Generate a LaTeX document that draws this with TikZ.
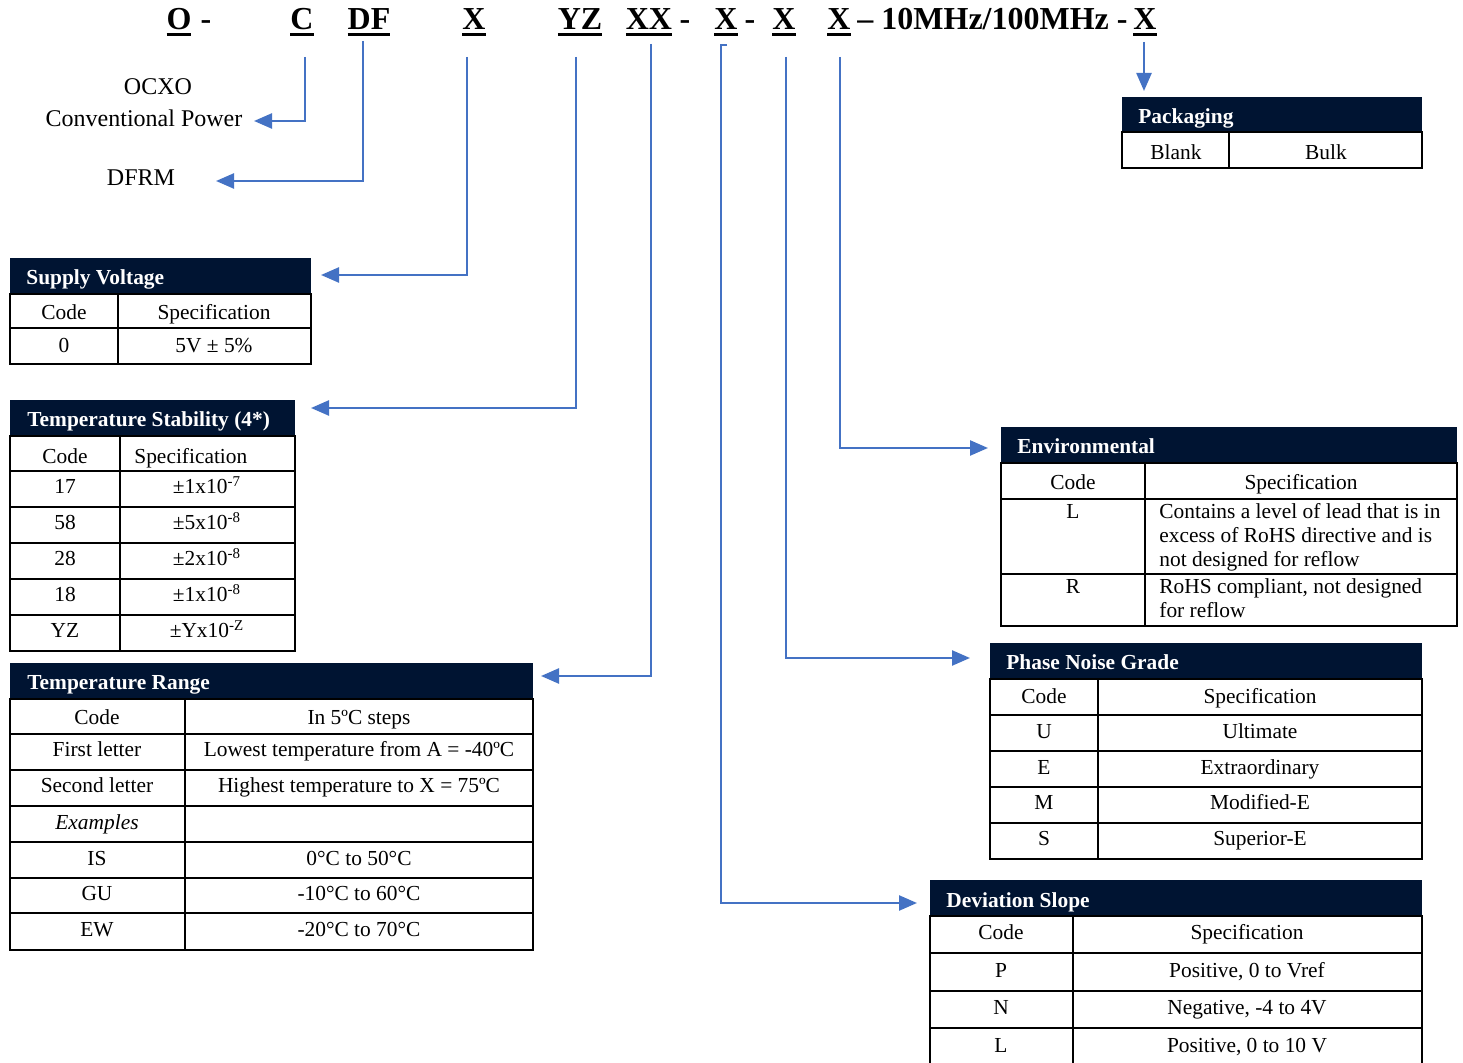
\documentclass[tikz,border=0pt]{standalone}
\usepackage{fontspec}
\setmainfont{Liberation Serif}
\usetikzlibrary{arrows.meta}
\definecolor{navy}{RGB}{0,20,50}
\definecolor{linkblue}{RGB}{68,114,196}
\newcommand\myul[1]{\vtop{\hbox{#1}\kern1.3pt\hrule height1.5pt}}
\newcommand\mylines[1]{\vtop{\baselineskip=12pt #1}}
\begin{document}
\begin{tikzpicture}[x=0.5pt,y=-0.5pt,
  codetxt/.style={font=\fontsize{16}{19}\selectfont\bfseries, inner sep=0pt, anchor=base},
  lbl/.style={font=\fontsize{12}{14}\selectfont, inner sep=0pt, anchor=base},
  hdrtxt/.style={font=\fontsize{10.7}{12.3}\selectfont\bfseries, text=white, inner sep=0pt, anchor=base west, yshift=-1pt},
  cell/.style={font=\fontsize{10.7}{12.3}\selectfont, inner sep=0pt, anchor=base, yshift=-1pt},
  celll/.style={font=\fontsize{10.7}{12.3}\selectfont, inner sep=0pt, anchor=base west, yshift=-1pt},
  grid/.style={line width=1pt, black},
  conn/.style={linkblue, line width=1.2pt, -{Triangle[length=9pt,width=7.5pt]}},
]
\useasboundingbox[fill=white] (0,0) rectangle (1463,1063);

% ---------- top code line ----------
\node[codetxt] (cO) at (179,30) {\myul{O}};
\node[codetxt] (d1) at (206,30) {-};
\node[codetxt] (cC) at (302,30) {\myul{C}};
\node[codetxt] (cDF) at (369,30) {\myul{DF}};
\node[codetxt] (cX1) at (474,30) {\myul{X}};
\node[codetxt] (cYZ) at (580,30) {\myul{YZ}};
\node[codetxt] (cXX) at (649,30) {\myul{XX}};
\node[codetxt] (d2) at (685,30) {-};
\node[codetxt] (cX2) at (726,30) {\myul{X}};
\node[codetxt] (d3) at (750,30) {-};
\node[codetxt] (cX3) at (784,30) {\myul{X}};
\node[codetxt] (cX4) at (839,30) {\myul{X}};
\node[codetxt, anchor=base west] (freq) at (857,30) {– 10MHz/100MHz -};
\node[codetxt] (cX5) at (1145,30) {\myul{X}};

% ---------- free labels ----------
\node[lbl] (ocxo) at (158,95) {OCXO};
\node[lbl] (conv) at (144,127) {Conventional Power};
\node[lbl] (dfrm) at (141,186) {DFRM};

% ---------- Packaging ----------
\fill[navy] (1122,97) rectangle (1422,132);
\node[hdrtxt] (pkT) at (1138,122) {Packaging};
\draw[grid] (1122,132) rectangle (1422,168);
\draw[grid] (1229,132) -- (1229,168);
\node[cell] (pk1) at (1176,158) {Blank};
\node[cell] (pk2) at (1326,158) {Bulk};

% ---------- Supply Voltage ----------
\fill[navy] (10,258) rectangle (311,294);
\node[hdrtxt] (svT) at (26,283) {Supply Voltage};
\draw[grid] (10,294) rectangle (311,364);
\draw[grid] (118,294) -- (118,364);
\draw[grid] (10,328) -- (311,328);
\node[cell] (sv1) at (64,318) {Code};
\node[cell] (sv2) at (214,318) {Specification};
\node[cell] (sv3) at (64,351) {0};
\node[cell] (sv4) at (214,351) {5V ± 5\%};

% ---------- Temperature Stability ----------
\fill[navy] (10,400) rectangle (295,436);
\node[hdrtxt] (tsT) at (27,425) {Temperature Stability (4*)};
\draw[grid] (10,436) rectangle (295,651);
\draw[grid] (120,436) -- (120,651);
\foreach \yy in {471,507,543,579,615} \draw[grid] (10,\yy) -- (295,\yy);
\node[cell] (ts1) at (65,462) {Code};
\node[celll] (ts2) at (134,462) {Specification};
\node[cell] (ts3) at (65,492) {17};
\node[cell] (ts4) at (207,492) {±1x10\textsuperscript{-7}};
\node[cell] (ts5) at (65,528) {58};
\node[cell] (ts6) at (207,528) {±5x10\textsuperscript{-8}};
\node[cell] (ts7) at (65,564) {28};
\node[cell] (ts8) at (207,564) {±2x10\textsuperscript{-8}};
\node[cell] (ts9) at (65,600) {18};
\node[cell] (ts10) at (207,600) {±1x10\textsuperscript{-8}};
\node[cell] (ts11) at (65,636) {YZ};
\node[cell] (ts12) at (207,636) {±Yx10\textsuperscript{-Z}};

% ---------- Temperature Range ----------
\fill[navy] (10,663) rectangle (533,699);
\node[hdrtxt] (trT) at (27,688) {Temperature Range};
\draw[grid] (10,699) rectangle (533,950);
\draw[grid] (185,699) -- (185,950);
\foreach \yy in {734,770,806,842,878,913} \draw[grid] (10,\yy) -- (533,\yy);
\node[cell] (tr1) at (97,723) {Code};
\node[cell] (tr2) at (359,723) {In 5ºC steps};
\node[cell] (tr3) at (97,755) {First letter};
\node[cell] (tr4) at (359,755) {Lowest temperature from A = -40ºC};
\node[cell] (tr5) at (97,791) {Second letter};
\node[cell] (tr6) at (359,791) {Highest temperature to X = 75ºC};
\node[cell, font=\fontsize{10.7}{12.3}\selectfont\itshape] (tr7) at (97,828) {Examples};
\node[cell] (tr8) at (97,863) {IS};
\node[cell] (tr9) at (359,863) {0°C to 50°C};
\node[cell] (tr10) at (97,898) {GU};
\node[cell] (tr11) at (359,898) {-10°C to 60°C};
\node[cell] (tr12) at (97,934) {EW};
\node[cell] (tr13) at (359,934) {-20°C to 70°C};

% ---------- Environmental ----------
\fill[navy] (1001,427) rectangle (1457,463);
\node[hdrtxt] (enT) at (1017,452) {Environmental};
\draw[grid] (1001,463) rectangle (1457,626);
\draw[grid] (1145,463) -- (1145,626);
\draw[grid] (1001,499) -- (1457,499);
\draw[grid] (1001,574) -- (1457,574);
\node[cell] (en1) at (1073,488) {Code};
\node[cell] (en2) at (1301,488) {Specification};
\node[cell] (en3) at (1073,517) {L};
\node[celll] (en4) at (1159,517) {\mylines{\hbox{Contains a level of lead that is in}\hbox{excess of RoHS directive and is}\hbox{not designed for reflow}}};
\node[cell] (en5) at (1073,592) {R};
\node[celll] (en6) at (1159,592) {\mylines{\hbox{RoHS compliant, not designed}\hbox{for reflow}}};

% ---------- Phase Noise Grade ----------
\fill[navy] (990,643) rectangle (1422,679);
\node[hdrtxt] (pnT) at (1006,668) {Phase Noise Grade};
\draw[grid] (990,679) rectangle (1422,859);
\draw[grid] (1098,679) -- (1098,859);
\foreach \yy in {715,751,787,823} \draw[grid] (990,\yy) -- (1422,\yy);
\node[cell] (pn1) at (1044,702) {Code};
\node[cell] (pn2) at (1260,702) {Specification};
\node[cell] (pn3) at (1044,737) {U};
\node[cell] (pn4) at (1260,737) {Ultimate};
\node[cell] (pn5) at (1044,773) {E};
\node[cell] (pn6) at (1260,773) {Extraordinary};
\node[cell] (pn7) at (1044,808) {M};
\node[cell] (pn8) at (1260,808) {Modified-E};
\node[cell] (pn9) at (1044,844) {S};
\node[cell] (pn10) at (1260,844) {Superior-E};

% ---------- Deviation Slope ----------
\fill[navy] (930,880) rectangle (1422,916);
\node[hdrtxt] (dsT) at (946,905) {Deviation Slope};
\draw[grid] (930,1064) -- (930,916) -- (1422,916) -- (1422,1064);
\draw[grid] (1073,916) -- (1073,1064);
\foreach \yy in {953,991,1028} \draw[grid] (930,\yy) -- (1422,\yy);
\node[cell] (ds1) at (1001,937) {Code};
\node[cell] (ds2) at (1247,937) {Specification};
\node[cell] (ds3) at (1001,975) {P};
\node[cell] (ds4) at (1247,975) {Positive, 0 to Vref};
\node[cell] (ds5) at (1001,1012) {N};
\node[cell] (ds6) at (1247,1012) {Negative, -4 to 4V};
\node[cell] (ds7) at (1001,1050) {L};
\node[cell] (ds8) at (1247,1050) {Positive, 0 to 10 V};

% ---------- connectors ----------
\coordinate (sC) at (305,57);   \coordinate (eC) at (254,121);
\coordinate (sDF) at (363,41);  \coordinate (eDF) at (216,181);
\coordinate (sX1) at (467,57);  \coordinate (eX1) at (321,275);
\coordinate (sYZ) at (576,57);  \coordinate (eYZ) at (311,408);
\coordinate (sXX) at (651,44);  \coordinate (eXX) at (541,676);
\coordinate (sX2) at (727,45);  \coordinate (kX2) at (721,45); \coordinate (eX2) at (917,903);
\coordinate (sX3) at (786,57);  \coordinate (eX3) at (970,658);
\coordinate (sX4) at (840,57);  \coordinate (eX4) at (988,448);
\coordinate (sX5) at (1144,42); \coordinate (eX5) at (1144,91);

\draw[conn] (sC) |- (eC);
\draw[conn] (sDF) |- (eDF);
\draw[conn] (sX1) |- (eX1);
\draw[conn] (sYZ) |- (eYZ);
\draw[conn] (sXX) |- (eXX);
\draw[conn] (sX2) -- (kX2) |- (eX2);
\draw[conn] (sX3) |- (eX3);
\draw[conn] (sX4) |- (eX4);
\draw[conn] (sX5) -- (eX5);
\end{tikzpicture}
\end{document}
